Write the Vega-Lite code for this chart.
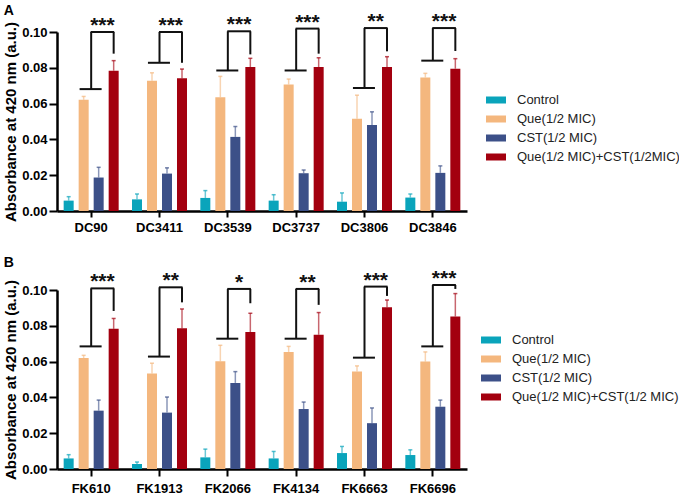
{
  "$schema": "https://vega.github.io/schema/vega-lite/v6.json",
  "padding": {"left": 3, "top": 4, "right": 0, "bottom": 0},
  "datasets": {
    "a": [
      {"strain": "DC90", "group": "Control", "mean": 0.0058, "upper": 0.0080},
      {"strain": "DC90", "group": "Que(1/2 MIC)", "mean": 0.0621, "upper": 0.0640},
      {"strain": "DC90", "group": "CST(1/2 MIC)", "mean": 0.0187, "upper": 0.0244},
      {"strain": "DC90", "group": "Que(1/2 MIC)+CST(1/2MIC)", "mean": 0.0784, "upper": 0.0840},
      {"strain": "DC3411", "group": "Control", "mean": 0.0065, "upper": 0.0095},
      {"strain": "DC3411", "group": "Que(1/2 MIC)", "mean": 0.0728, "upper": 0.0772},
      {"strain": "DC3411", "group": "CST(1/2 MIC)", "mean": 0.0209, "upper": 0.0241},
      {"strain": "DC3411", "group": "Que(1/2 MIC)+CST(1/2MIC)", "mean": 0.0741, "upper": 0.0793},
      {"strain": "DC3539", "group": "Control", "mean": 0.0073, "upper": 0.0114},
      {"strain": "DC3539", "group": "Que(1/2 MIC)", "mean": 0.0636, "upper": 0.0752},
      {"strain": "DC3539", "group": "CST(1/2 MIC)", "mean": 0.0414, "upper": 0.0472},
      {"strain": "DC3539", "group": "Que(1/2 MIC)+CST(1/2MIC)", "mean": 0.0804, "upper": 0.0853},
      {"strain": "DC3737", "group": "Control", "mean": 0.0058, "upper": 0.0091},
      {"strain": "DC3737", "group": "Que(1/2 MIC)", "mean": 0.0707, "upper": 0.0737},
      {"strain": "DC3737", "group": "CST(1/2 MIC)", "mean": 0.0211, "upper": 0.0229},
      {"strain": "DC3737", "group": "Que(1/2 MIC)+CST(1/2MIC)", "mean": 0.0804, "upper": 0.0856},
      {"strain": "DC3806", "group": "Control", "mean": 0.0052, "upper": 0.0101},
      {"strain": "DC3806", "group": "Que(1/2 MIC)", "mean": 0.0515, "upper": 0.0647},
      {"strain": "DC3806", "group": "CST(1/2 MIC)", "mean": 0.0481, "upper": 0.0554},
      {"strain": "DC3806", "group": "Que(1/2 MIC)+CST(1/2MIC)", "mean": 0.0804, "upper": 0.0862},
      {"strain": "DC3846", "group": "Control", "mean": 0.0075, "upper": 0.0095},
      {"strain": "DC3846", "group": "Que(1/2 MIC)", "mean": 0.0746, "upper": 0.0769},
      {"strain": "DC3846", "group": "CST(1/2 MIC)", "mean": 0.0213, "upper": 0.0252},
      {"strain": "DC3846", "group": "Que(1/2 MIC)+CST(1/2MIC)", "mean": 0.0795, "upper": 0.0851}
    ],
    "b": [
      {"strain": "FK610", "group": "Control", "mean": 0.0059, "upper": 0.0080},
      {"strain": "FK610", "group": "Que(1/2 MIC)", "mean": 0.0620, "upper": 0.0635},
      {"strain": "FK610", "group": "CST(1/2 MIC)", "mean": 0.0326, "upper": 0.0385},
      {"strain": "FK610", "group": "Que(1/2 MIC)+CST(1/2 MIC)", "mean": 0.0783, "upper": 0.0841},
      {"strain": "FK1913", "group": "Control", "mean": 0.0028, "upper": 0.0039},
      {"strain": "FK1913", "group": "Que(1/2 MIC)", "mean": 0.0533, "upper": 0.0591},
      {"strain": "FK1913", "group": "CST(1/2 MIC)", "mean": 0.0315, "upper": 0.0402},
      {"strain": "FK1913", "group": "Que(1/2 MIC)+CST(1/2 MIC)", "mean": 0.0787, "upper": 0.0894},
      {"strain": "FK2066", "group": "Control", "mean": 0.0065, "upper": 0.0111},
      {"strain": "FK2066", "group": "Que(1/2 MIC)", "mean": 0.0602, "upper": 0.0691},
      {"strain": "FK2066", "group": "CST(1/2 MIC)", "mean": 0.0481, "upper": 0.0544},
      {"strain": "FK2066", "group": "Que(1/2 MIC)+CST(1/2 MIC)", "mean": 0.0765, "upper": 0.0870},
      {"strain": "FK4134", "group": "Control", "mean": 0.0059, "upper": 0.0098},
      {"strain": "FK4134", "group": "Que(1/2 MIC)", "mean": 0.0654, "upper": 0.0685},
      {"strain": "FK4134", "group": "CST(1/2 MIC)", "mean": 0.0335, "upper": 0.0374},
      {"strain": "FK4134", "group": "Que(1/2 MIC)+CST(1/2 MIC)", "mean": 0.0750, "upper": 0.0874},
      {"strain": "FK6663", "group": "Control", "mean": 0.0089, "upper": 0.0126},
      {"strain": "FK6663", "group": "Que(1/2 MIC)", "mean": 0.0544, "upper": 0.0576},
      {"strain": "FK6663", "group": "CST(1/2 MIC)", "mean": 0.0256, "upper": 0.0341},
      {"strain": "FK6663", "group": "Que(1/2 MIC)+CST(1/2 MIC)", "mean": 0.0904, "upper": 0.0944},
      {"strain": "FK6696", "group": "Control", "mean": 0.0078, "upper": 0.0107},
      {"strain": "FK6696", "group": "Que(1/2 MIC)", "mean": 0.0600, "upper": 0.0654},
      {"strain": "FK6696", "group": "CST(1/2 MIC)", "mean": 0.0348, "upper": 0.0385},
      {"strain": "FK6696", "group": "Que(1/2 MIC)+CST(1/2 MIC)", "mean": 0.0852, "upper": 0.0980}
    ],
    "ba": [
      {"strain": "DC90", "low": 0.0681, "top": 0.1000, "high": 0.0879, "stars": "***"},
      {"strain": "DC3411", "low": 0.0828, "top": 0.1000, "high": 0.0828, "stars": "***"},
      {"strain": "DC3539", "low": 0.0785, "top": 0.1004, "high": 0.0875, "stars": "***"},
      {"strain": "DC3737", "low": 0.0785, "top": 0.1019, "high": 0.0879, "stars": "***"},
      {"strain": "DC3806", "low": 0.0687, "top": 0.1022, "high": 0.0892, "stars": "**"},
      {"strain": "DC3846", "low": 0.0840, "top": 0.1022, "high": 0.0894, "stars": "***"}
    ],
    "bb": [
      {"strain": "FK610", "low": 0.0685, "top": 0.1009, "high": 0.0883, "stars": "***"},
      {"strain": "FK1913", "low": 0.0628, "top": 0.1015, "high": 0.0931, "stars": "**"},
      {"strain": "FK2066", "low": 0.0728, "top": 0.1006, "high": 0.0926, "stars": "*"},
      {"strain": "FK4134", "low": 0.0728, "top": 0.1006, "high": 0.0917, "stars": "**"},
      {"strain": "FK6663", "low": 0.0622, "top": 0.1019, "high": 0.0967, "stars": "***"},
      {"strain": "FK6696", "low": 0.0685, "top": 0.1028, "high": 0.1006, "stars": "***"}
    ]
  },
  "spacing": 21,
  "resolve": {"scale": {"x": "independent", "xOffset": "independent", "y": "independent", "color": "independent"}, "legend": {"color": "independent"}},
  "vconcat": [
    {
      "title": {"text": "A", "anchor": "start", "frame": "bounds", "fontSize": 14, "fontWeight": "bold", "color": "#000", "offset": -7},
      "width": 410,
      "height": 179,
      "layer": [
        {
          "data": {"name": "a"},
          "mark": {"type": "bar"},
          "encoding": {
            "x": {"field": "strain", "type": "nominal", "scale": {"domain": ["DC90", "DC3411", "DC3539", "DC3737", "DC3806", "DC3846"], "paddingInner": 0.195, "paddingOuter": 0.0975}, "axis": {"labelAngle": 0, "tickSize": 6, "labelPadding": 4, "title": null}},
            "xOffset": {"field": "group", "type": "nominal", "scale": {"domain": ["Control", "Que(1/2 MIC)", "CST(1/2 MIC)", "Que(1/2 MIC)+CST(1/2MIC)"], "paddingInner": 0.333, "paddingOuter": 0}},
            "y": {"field": "mean", "type": "quantitative", "scale": {"domain": [0, 0.1], "nice": false}, "axis": {"values": [0, 0.02, 0.04, 0.06, 0.08, 0.1], "tickCount": 6, "format": ".2f", "tickSize": 8, "labelPadding": 2, "titlePadding": 3, "labelOverlap": false, "title": "Absorbance at 420 nm (a.u.)"}},
            "color": {"field": "group", "type": "nominal", "scale": {"domain": ["Control", "Que(1/2 MIC)", "CST(1/2 MIC)", "Que(1/2 MIC)+CST(1/2MIC)"], "range": ["#0aa4bb", "#f4b77e", "#3c5088", "#a3000f"]}, "legend": {"orient": "none", "legendX": 429, "legendY": 58}}
          }
        },
        {
          "data": {"name": "a"},
          "mark": {"type": "rule", "strokeWidth": 1.5, "opacity": 0.6},
          "encoding": {
            "x": {"field": "strain", "type": "nominal"},
            "xOffset": {"field": "group", "type": "nominal"},
            "y": {"field": "mean", "type": "quantitative"},
            "y2": {"field": "upper"},
            "color": {"field": "group", "type": "nominal"}
          }
        },
        {
          "data": {"name": "a"},
          "mark": {"type": "tick", "size": 4, "thickness": 1.5, "opacity": 0.7},
          "encoding": {
            "x": {"field": "strain", "type": "nominal"},
            "xOffset": {"field": "group", "type": "nominal"},
            "y": {"field": "upper", "type": "quantitative"},
            "color": {"field": "group", "type": "nominal"}
          }
        },
        {
          "data": {"name": "ba"},
          "mark": {"type": "rule", "strokeWidth": 2, "color": "#111"},
          "encoding": {
            "x": {"field": "strain", "type": "nominal", "bandPosition": 0.5},
            "y": {"field": "low", "type": "quantitative"},
            "y2": {"field": "top"}
          }
        },
        {
          "data": {"name": "ba"},
          "mark": {"type": "rule", "strokeWidth": 2, "color": "#111"},
          "encoding": {
            "x": {"field": "strain", "type": "nominal", "bandPosition": 0.909},
            "y": {"field": "high", "type": "quantitative"},
            "y2": {"field": "top"}
          }
        },
        {
          "data": {"name": "ba"},
          "mark": {"type": "rule", "strokeWidth": 2, "color": "#111"},
          "encoding": {
            "x": {"field": "strain", "type": "nominal", "bandPosition": 0.49},
            "x2": {"field": "strain", "bandPosition": 0.919},
            "y": {"field": "top", "type": "quantitative"}
          }
        },
        {
          "data": {"name": "ba"},
          "mark": {"type": "rule", "strokeWidth": 2, "color": "#111"},
          "encoding": {
            "x": {"field": "strain", "type": "nominal", "bandPosition": 0.29},
            "x2": {"field": "strain", "bandPosition": 0.69},
            "y": {"field": "low", "type": "quantitative"}
          }
        },
        {
          "data": {"name": "ba"},
          "mark": {"type": "text", "fontSize": 21, "fontWeight": "bold", "baseline": "alphabetic", "align": "center", "color": "#111"},
          "encoding": {
            "x": {"field": "strain", "type": "nominal", "bandPosition": 0.705},
            "y": {"field": "top", "type": "quantitative"},
            "text": {"field": "stars"}
          }
        }
      ]
    },
    {
      "title": {"text": "B", "anchor": "start", "frame": "bounds", "fontSize": 14, "fontWeight": "bold", "color": "#000", "offset": -2},
      "width": 410,
      "height": 179,
      "layer": [
        {
          "data": {"name": "b"},
          "mark": {"type": "bar"},
          "encoding": {
            "x": {"field": "strain", "type": "nominal", "scale": {"domain": ["FK610", "FK1913", "FK2066", "FK4134", "FK6663", "FK6696"], "paddingInner": 0.195, "paddingOuter": 0.0975}, "axis": {"labelAngle": 0, "tickSize": 7, "labelPadding": 6, "title": null}},
            "xOffset": {"field": "group", "type": "nominal", "scale": {"domain": ["Control", "Que(1/2 MIC)", "CST(1/2 MIC)", "Que(1/2 MIC)+CST(1/2 MIC)"], "paddingInner": 0.333, "paddingOuter": 0}},
            "y": {"field": "mean", "type": "quantitative", "scale": {"domain": [0, 0.1], "nice": false}, "axis": {"values": [0, 0.02, 0.04, 0.06, 0.08, 0.1], "tickCount": 6, "format": ".2f", "tickSize": 8, "labelPadding": 2, "titlePadding": 3, "labelOverlap": false, "title": "Absorbance at 420 nm (a.u.)"}},
            "color": {"field": "group", "type": "nominal", "scale": {"domain": ["Control", "Que(1/2 MIC)", "CST(1/2 MIC)", "Que(1/2 MIC)+CST(1/2 MIC)"], "range": ["#0aa4bb", "#f4b77e", "#3c5088", "#a3000f"]}, "legend": {"orient": "none", "legendX": 424, "legendY": 40}}
          }
        },
        {
          "data": {"name": "b"},
          "mark": {"type": "rule", "strokeWidth": 1.5, "opacity": 0.6},
          "encoding": {
            "x": {"field": "strain", "type": "nominal"},
            "xOffset": {"field": "group", "type": "nominal"},
            "y": {"field": "mean", "type": "quantitative"},
            "y2": {"field": "upper"},
            "color": {"field": "group", "type": "nominal"}
          }
        },
        {
          "data": {"name": "b"},
          "mark": {"type": "tick", "size": 4, "thickness": 1.5, "opacity": 0.7},
          "encoding": {
            "x": {"field": "strain", "type": "nominal"},
            "xOffset": {"field": "group", "type": "nominal"},
            "y": {"field": "upper", "type": "quantitative"},
            "color": {"field": "group", "type": "nominal"}
          }
        },
        {
          "data": {"name": "bb"},
          "mark": {"type": "rule", "strokeWidth": 2, "color": "#111"},
          "encoding": {
            "x": {"field": "strain", "type": "nominal", "bandPosition": 0.5},
            "y": {"field": "low", "type": "quantitative"},
            "y2": {"field": "top"}
          }
        },
        {
          "data": {"name": "bb"},
          "mark": {"type": "rule", "strokeWidth": 2, "color": "#111"},
          "encoding": {
            "x": {"field": "strain", "type": "nominal", "bandPosition": 0.909},
            "y": {"field": "high", "type": "quantitative"},
            "y2": {"field": "top"}
          }
        },
        {
          "data": {"name": "bb"},
          "mark": {"type": "rule", "strokeWidth": 2, "color": "#111"},
          "encoding": {
            "x": {"field": "strain", "type": "nominal", "bandPosition": 0.49},
            "x2": {"field": "strain", "bandPosition": 0.919},
            "y": {"field": "top", "type": "quantitative"}
          }
        },
        {
          "data": {"name": "bb"},
          "mark": {"type": "rule", "strokeWidth": 2, "color": "#111"},
          "encoding": {
            "x": {"field": "strain", "type": "nominal", "bandPosition": 0.29},
            "x2": {"field": "strain", "bandPosition": 0.69},
            "y": {"field": "low", "type": "quantitative"}
          }
        },
        {
          "data": {"name": "bb"},
          "mark": {"type": "text", "fontSize": 21, "fontWeight": "bold", "baseline": "alphabetic", "align": "center", "color": "#111"},
          "encoding": {
            "x": {"field": "strain", "type": "nominal", "bandPosition": 0.705},
            "y": {"field": "top", "type": "quantitative"},
            "text": {"field": "stars"}
          }
        }
      ]
    }
  ],
  "config": {
    "view": {"stroke": null},
    "font": "Liberation Sans",
    "axis": {"domainColor": "#000", "domainWidth": 2.5, "tickColor": "#000", "tickWidth": 2, "labelColor": "#000", "labelFont": "Liberation Sans", "labelFontWeight": "bold", "labelFontSize": 13, "titleFont": "Liberation Sans", "titleFontWeight": "bold", "titleFontSize": 15, "titleColor": "#000", "grid": false},
    "legend": {"title": null, "symbolType": "M-1,-0.35H1V0.35H-1Z", "symbolSize": 400, "symbolStrokeWidth": 0, "symbolOpacity": 1, "labelFont": "Liberation Sans", "labelFontSize": 13, "labelColor": "#222", "labelLimit": 300, "rowPadding": 2, "labelOffset": 11, "padding": 0}
  }
}
